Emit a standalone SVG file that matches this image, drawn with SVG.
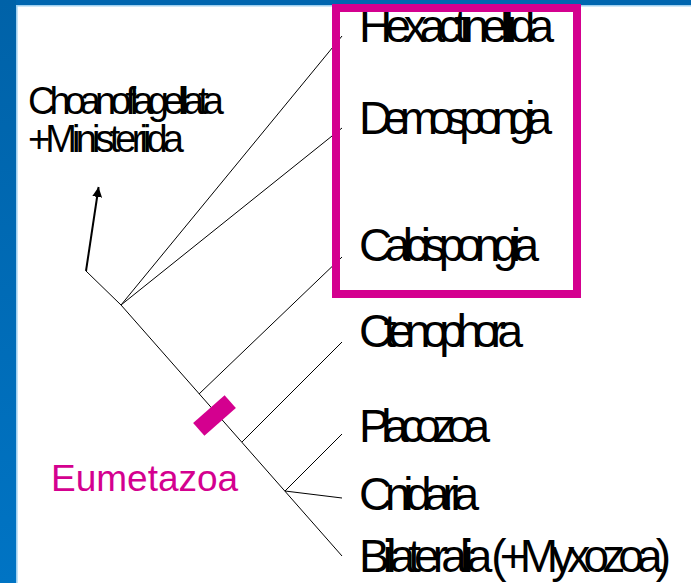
<svg xmlns="http://www.w3.org/2000/svg" width="691" height="583" viewBox="0 0 691 583">
  <style>
    .lbl { font-family: "Liberation Sans", Arial, sans-serif; font-size: 46px; fill: #000; }
    .out { font-family: "Liberation Sans", Arial, sans-serif; font-size: 38px; fill: #000; }
    .mag { font-family: "Liberation Sans", Arial, sans-serif; font-size: 37px; fill: #d4008f; }
    .br { stroke: #000; stroke-width: 1; fill: none; }
  </style>
  <defs>
    <linearGradient id="side" x1="0" y1="0" x2="0" y2="1">
      <stop offset="0" stop-color="#0062a8"/>
      <stop offset="1" stop-color="#0074c4"/>
    </linearGradient>
    <marker id="ah" markerUnits="userSpaceOnUse" markerWidth="12" markerHeight="12" refX="10" refY="5" orient="auto">
      <path d="M0,0 L10,5 L0,10 Z" fill="#000"/>
    </marker>
  </defs>

  <g id="background">
    <rect x="0" y="0" width="691" height="583" fill="#ffffff"/>
    <rect x="0" y="0" width="691" height="5" fill="#0066b0"/>
    <rect x="0" y="0" width="16" height="583" fill="url(#side)"/>
    <line x1="16" y1="5.8" x2="691" y2="5.8" stroke="#9fd0f0" stroke-width="1.6"/>
    <line x1="16.8" y1="5" x2="16.8" y2="583" stroke="#9fd0f0" stroke-width="1.6"/>
  </g>

  <g id="connectors">
    <polyline class="br" points="86,271 121,305 342,556"/>
    <line class="br" x1="121" y1="305" x2="342" y2="36"/>
    <line class="br" x1="121" y1="305" x2="342" y2="128"/>
    <line class="br" x1="199" y1="394" x2="342" y2="257"/>
    <line class="br" x1="242" y1="442" x2="342" y2="342"/>
    <line class="br" x1="285" y1="491" x2="342" y2="434"/>
    <line class="br" x1="285" y1="491" x2="342" y2="498"/>
    <line x1="86" y1="271" x2="98.6" y2="187" stroke="#000" stroke-width="2" marker-end="url(#ah)"/>
  </g>

  <g id="node-choanoflagellata">
    <text class="out" x="28" y="114" textLength="196" lengthAdjust="spacing">Choanoflagellata</text>
    <text class="out" x="28" y="152" textLength="156" lengthAdjust="spacing">+Ministeriida</text>
  </g>
  <g id="node-hexactinellida">
    <text class="lbl" x="359" y="42" textLength="195" lengthAdjust="spacing">Hexactinellida</text>
  </g>
  <g id="node-demospongia">
    <text class="lbl" x="359" y="134" textLength="193" lengthAdjust="spacing">Demospongia</text>
  </g>
  <g id="node-calcispongia">
    <text class="lbl" x="359" y="261" textLength="180" lengthAdjust="spacing">Calcispongia</text>
  </g>
  <g id="node-ctenophora">
    <text class="lbl" x="359" y="347" textLength="164" lengthAdjust="spacing">Ctenophora</text>
  </g>
  <g id="node-placozoa">
    <text class="lbl" x="359" y="442" textLength="131" lengthAdjust="spacing">Placozoa</text>
  </g>
  <g id="node-cnidaria">
    <text class="lbl" x="359" y="510" textLength="120" lengthAdjust="spacing">Cnidaria</text>
  </g>
  <g id="node-bilateralia">
    <text class="lbl" x="359" y="572" textLength="312" lengthAdjust="spacing">Bilateralia (+Myxozoa)</text>
  </g>

  <g id="node-eumetazoa">
    <rect x="193.5" y="407" width="42" height="17" fill="#d4008f" transform="rotate(-41.5 214.5 415.5)"/>
    <text class="mag" x="51" y="491">Eumetazoa</text>
  </g>

  <g id="node-porifera-box">
    <rect x="336" y="8" width="241" height="286" fill="none" stroke="#d4008f" stroke-width="8"/>
  </g>
</svg>
